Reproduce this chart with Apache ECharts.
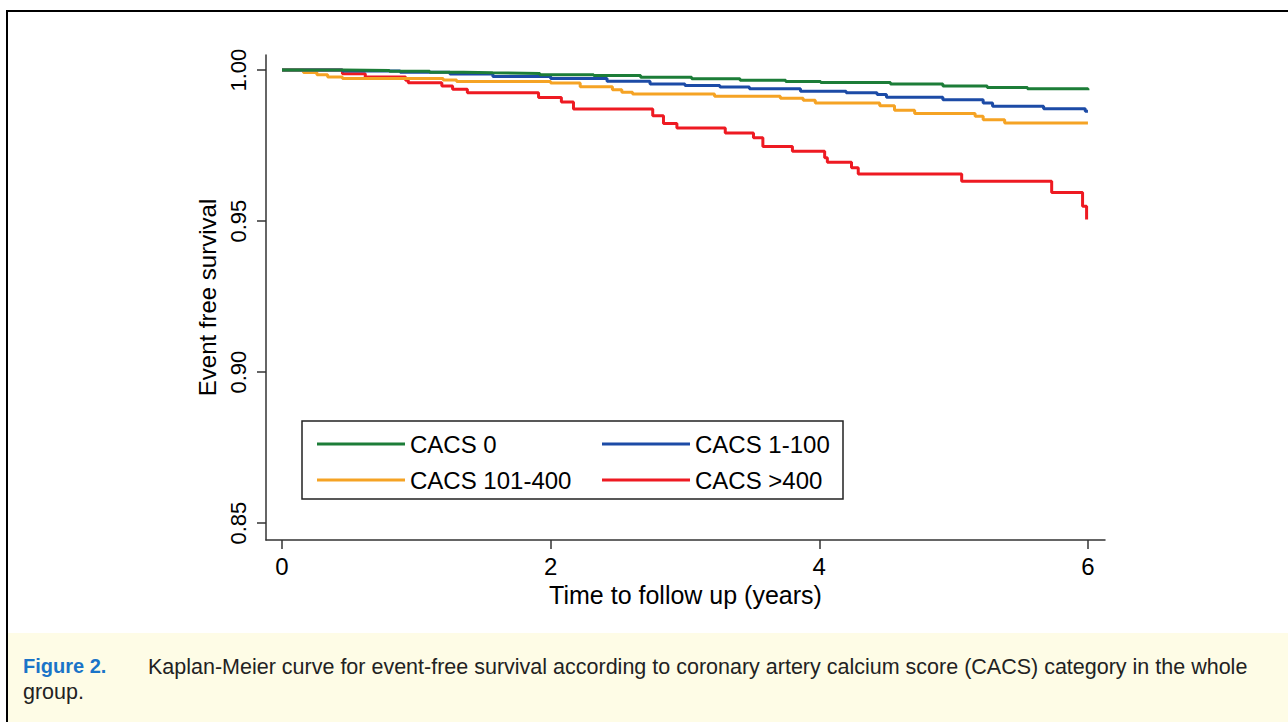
<!DOCTYPE html>
<html>
<head>
<meta charset="utf-8">
<script src="https://cdn.jsdelivr.net/npm/echarts@6/dist/echarts.min.js"></script>
<style>
  html, body { margin: 0; padding: 0; background: #fff; }
  #main { width: 1288px; height: 722px; }
</style>
</head>
<body>
<div id="main"></div>
<script>
// Kaplan-Meier steps: time (years) and event free survival
var cacs0Time  = [0, 0.45, 0.80, 1.10, 1.35, 1.57, 1.92, 2.32, 2.67, 3.05, 3.41, 3.75, 4.01, 4.53, 4.92, 5.25, 5.55, 6.00];
var cacs0Surv  = [1.0, 0.9999, 0.9996, 0.9993, 0.9991, 0.9989, 0.9985, 0.9982, 0.9976, 0.9971, 0.9966, 0.9962, 0.9959, 0.9954, 0.9947, 0.9942, 0.9938, 0.9933];

var cacs1Time  = [0, 0.45, 0.88, 1.25, 1.57, 2.00, 2.42, 2.74, 3.00, 3.26, 3.48, 3.86, 4.20, 4.43, 4.50, 4.92, 5.22, 5.29, 5.67, 5.98, 6.00];
var cacs1Surv  = [1.0, 0.9997, 0.9993, 0.9987, 0.9979, 0.9972, 0.9963, 0.9954, 0.9949, 0.9944, 0.9938, 0.9930, 0.9925, 0.9919, 0.9910, 0.9902, 0.9891, 0.9880, 0.9872, 0.9864, 0.9864];

var cacs2Time  = [0, 0.16, 0.26, 0.34, 0.45, 1.20, 1.30, 2.00, 2.22, 2.46, 2.53, 2.61, 3.22, 3.71, 3.88, 3.97, 4.45, 4.56, 4.71, 5.16, 5.22, 5.38, 6.00];
var cacs2Surv  = [1.0, 0.9992, 0.9985, 0.9977, 0.9972, 0.9967, 0.9962, 0.9957, 0.9945, 0.9935, 0.9927, 0.9921, 0.9913, 0.9907, 0.9900, 0.9891, 0.9882, 0.9867, 0.9856, 0.9847, 0.9836, 0.9825, 0.9825];

var cacs3Time  = [0, 0.45, 0.62, 0.92, 0.94, 1.19, 1.27, 1.38, 1.91, 2.08, 2.17, 2.76, 2.84, 2.94, 3.30, 3.51, 3.58, 3.80, 4.04, 4.06, 4.24, 4.29, 5.06, 5.73, 5.96, 5.99];
var cacs3Surv  = [1.0, 0.9988, 0.9977, 0.9966, 0.9958, 0.9947, 0.9937, 0.9925, 0.9909, 0.9894, 0.9871, 0.9849, 0.9823, 0.9808, 0.9792, 0.9776, 0.9747, 0.9731, 0.9710, 0.9695, 0.9677, 0.9656, 0.9632, 0.9595, 0.9549, 0.9505];

var groupNames  = ['CACS 0', 'CACS 1-100', 'CACS 101-400', 'CACS >400'];
var groupColors = ['#1c7d38', '#1c4ba6', '#f5a324', '#ee1a22'];
var xTicks = [0, 2, 4, 6];
var yTicks = [0.85, 0.90, 0.95, 1.00];

function pairs(t, s) {
    return t.map(function (v, i) { return [v, s[i]]; });
}
var groupData = [
    pairs(cacs0Time, cacs0Surv),
    pairs(cacs1Time, cacs1Surv),
    pairs(cacs2Time, cacs2Surv),
    pairs(cacs3Time, cacs3Surv)
];

var chart = echarts.init(document.getElementById('main'), null, { renderer: 'svg' });
var font = 'Liberation Sans, Arial, sans-serif';
var axisCol = '#333';

var legendBase = {
    orient: 'vertical',
    top: 427,
    icon: 'rect',
    itemWidth: 88, itemHeight: 3, itemGap: 12,
    textStyle: { color: '#000', fontSize: 24, fontFamily: font }
};

chart.setOption({
    animation: false,
    backgroundColor: '#fff',
    textStyle: { fontFamily: font },
    grid: { left: 266, top: 55, right: 183, bottom: 182 },
    xAxis: {
        type: 'value',
        min: -0.119,
        max: 6.127,
        name: 'Time to follow up (years)',
        nameLocation: 'middle',
        nameGap: 36,
        nameTextStyle: { color: '#000', fontSize: 25, fontFamily: font },
        axisLine: { onZero: false, lineStyle: { color: axisCol, width: 1.5 } },
        axisTick: { length: 9, customValues: xTicks, lineStyle: { color: axisCol, width: 1.5 } },
        axisLabel: { customValues: xTicks, color: '#000', fontSize: 24, margin: 14, fontFamily: font },
        splitLine: { show: false }
    },
    yAxis: {
        type: 'value',
        min: 0.8444,
        max: 1.005,
        name: 'Event free survival',
        nameLocation: 'middle',
        nameGap: 46,
        nameTextStyle: { color: '#000', fontSize: 24, fontFamily: font },
        axisLine: { onZero: false, lineStyle: { color: axisCol, width: 1.5 } },
        axisTick: { length: 9, customValues: yTicks, lineStyle: { color: axisCol, width: 1.5 } },
        axisLabel: {
            customValues: yTicks, color: '#000', fontSize: 22, rotate: 90, margin: 17, fontFamily: font,
            formatter: function (v) { return v.toFixed(2); }
        },
        splitLine: { show: false }
    },
    legend: [
        Object.assign({ data: [groupNames[0], groupNames[2]], left: 312 }, legendBase),
        Object.assign({ data: [groupNames[1], groupNames[3]], left: 597 }, legendBase)
    ],
    series: groupNames.map(function (name, i) {
        return {
            name: name,
            type: 'line',
            step: 'end',
            symbol: 'none',
            data: groupData[i],
            color: groupColors[i],
            lineStyle: { width: 3, color: groupColors[i] },
            z: 10 - i
        };
    }),
    graphic: [
        // outer frame and caption strip
        { type: 'rect', shape: { x: 7, y: 11, width: 1300, height: 730 },
          style: { fill: 'none', stroke: '#000', lineWidth: 2 }, silent: true },
        { type: 'rect', shape: { x: 8, y: 633, width: 1290, height: 100 },
          style: { fill: '#fefce6' }, silent: true },
        // legend frame
        { type: 'rect', shape: { x: 302, y: 421, width: 541, height: 78 },
          style: { fill: 'none', stroke: '#222', lineWidth: 1.5 }, silent: true },
        { type: 'text', left: 23, top: 656,
          style: { text: 'Figure 2.', fill: '#1a74c8', font: 'bold 20px ' + font } },
        { type: 'text', left: 148, top: 656,
          style: { text: 'Kaplan-Meier curve for event-free survival according to coronary artery calcium score (CACS) category in the whole',
                   fill: '#222', font: '21.5px ' + font } },
        { type: 'text', left: 23, top: 681,
          style: { text: 'group.', fill: '#222', font: '21.5px ' + font } }
    ]
});
</script>
</body>
</html>
